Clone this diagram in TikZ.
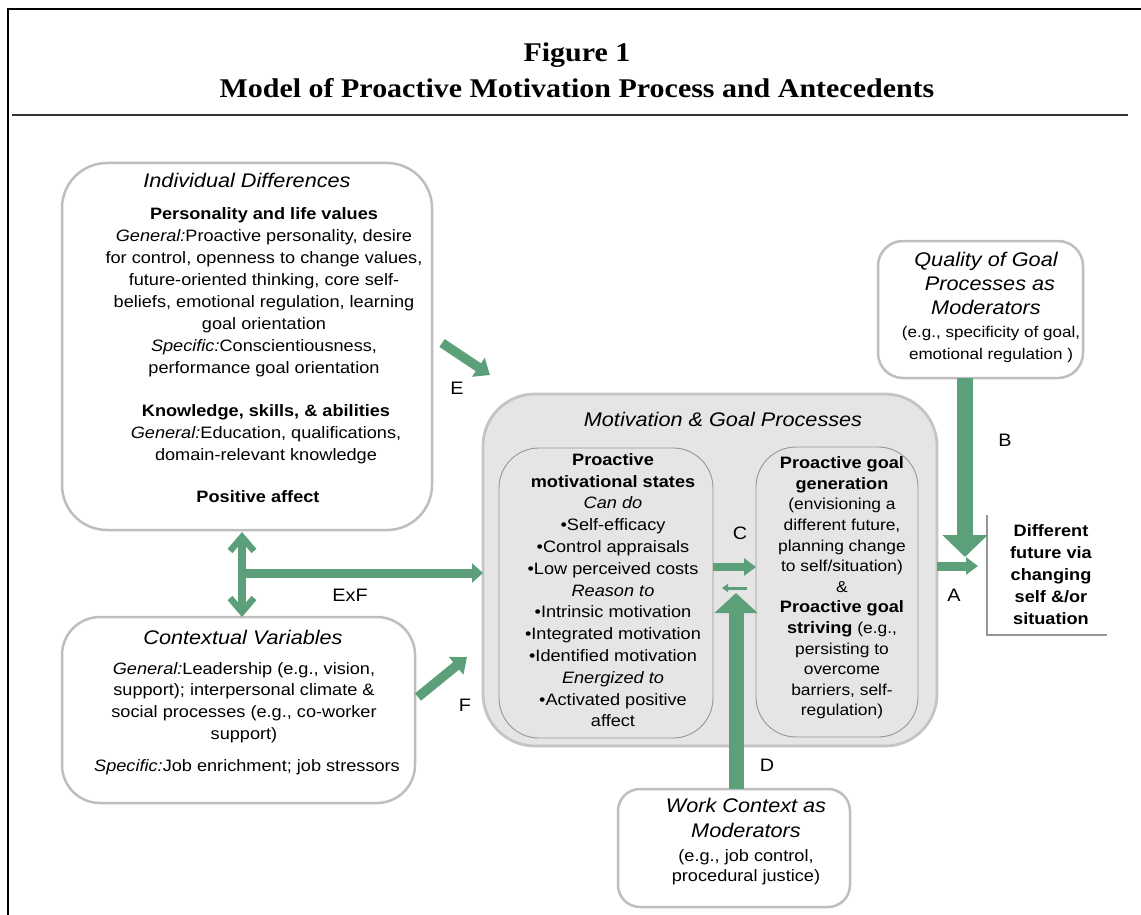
\documentclass[tikz,border=0pt]{standalone}
\usepackage{fontspec}
\setmainfont{Liberation Sans}[FakeStretch=1.1]
\newfontfamily\titlefont{Liberation Serif}[FakeStretch=1.11]
\usetikzlibrary{arrows.meta}
\definecolor{arrgreen}{RGB}{92,160,122}
\definecolor{boxline}{RGB}{190,190,190}
\definecolor{bigfill}{RGB}{229,229,229}
\definecolor{bigline}{RGB}{196,196,196}
\definecolor{innerline}{RGB}{150,150,150}
\newcommand\fz[2]{\fontsize{#1}{#2}\selectfont}
\newcommand\fl{\rule{0pt}{0.8em}}
\newcommand\RB[1]{{\fontsize{16.5}{20.6}\selectfont\bfseries #1}}
\tikzset{
  box/.style={draw=boxline, line width=2.5pt, fill=white, inner sep=0pt, outer sep=0pt},
  innerbox/.style={draw=innerline, line width=0.9pt, inner sep=0pt, outer sep=0pt, rounded corners=40pt},
  txt/.style={inner sep=0pt, outer sep=0pt, align=center, anchor=north},
  hd/.style={txt, font=\itshape\fz{19.7}{24}},
  bodytxt/.style={txt, font=\fz{16.5}{22}},
  lbl/.style={inner sep=0pt, font=\fz{18}{20}},
  arr/.style={draw=arrgreen, color=arrgreen},
  barb/.tip={Straight Barb[width=24pt,length=14pt,line width=6.5pt]},
}
\begin{document}
\begin{tikzpicture}[x=1pt,y=-1pt]
\useasboundingbox (0,0) rectangle (1141,915);
% frame and title
\coordinate (fa) at (8,915);
\coordinate (fb) at (8,9);
\coordinate (fc) at (1141,9);
\draw[line width=2.6pt] (fa) -- (fb) -- (fc);
\node[anchor=base, inner sep=0pt, font=\titlefont\bfseries\fz{27}{30}] (fig) at (577,62) {Figure 1};
\node[anchor=base, inner sep=0pt, font=\titlefont\bfseries\fz{27}{30}] (ttl) at (577,98) {Model of Proactive Motivation Process and Antecedents};
\coordinate (ra) at (12,115);
\coordinate (rb) at (1128,115);
\draw[line width=2pt, black!80] (ra) -- (rb);

% Individual differences
\node[box, rounded corners=45pt, minimum width=370pt, minimum height=367pt] (indiv) at (247,346.5) {};
\node[hd] (indivt) at (247,172) {\fl Individual Differences};
\node[bodytxt] (indiv1) at (264,206) {\fl\textbf{Personality and life values}\\
\textit{General:}Proactive personality, desire\\
for control, openness to change values,\\
future-oriented thinking, core self-\\
beliefs, emotional regulation, learning\\
goal orientation\\
\textit{Specific:}Conscientiousness,\\
performance goal orientation};
\node[bodytxt] (indiv2) at (266,403) {\fl\textbf{Knowledge, skills, \& abilities}\\
\textit{General:}Education, qualifications,\\
domain-relevant knowledge};
\node[bodytxt] (indiv3) at (258,489) {\fl\textbf{Positive affect}};

% Contextual variables
\node[box, rounded corners=38pt, minimum width=353pt, minimum height=186pt] (ctx) at (238.5,710) {};
\node[hd] (ctxt) at (243,629) {\fl Contextual Variables};
\node[txt, font=\fz{16.5}{21.7}] (ctx1) at (244,661) {\fl\textit{General:}Leadership (e.g., vision,\\
support); interpersonal climate \&\\
social processes (e.g., co-worker\\
support)};
\node[bodytxt] (ctx2) at (247,758) {\fl\textit{Specific:}Job enrichment; job stressors};

% Motivation & goal processes
\node[draw=bigline, fill=bigfill, line width=2.8pt, rounded corners=52pt, minimum width=454pt, minimum height=352pt, inner sep=0pt, outer sep=0pt] (big) at (710,570) {};
\node[hd] (bigt) at (723,411) {\fl Motivation \& Goal Processes};
\node[innerbox, minimum width=214pt, minimum height=290pt] (lin) at (606,593) {};
\node[innerbox, minimum width=162pt, minimum height=290pt] (rin) at (837,592) {};
\node[txt, font=\fz{16.5}{21.8}] (lint) at (613,452) {\fl\textbf{Proactive}\\
\textbf{motivational states}\\
\textit{Can do}\\
\textbullet Self-efficacy\\
\textbullet Control appraisals\\
\textbullet Low perceived costs\\
\textit{Reason to}\\
\textbullet Intrinsic motivation\\
\textbullet Integrated motivation\\
\textbullet Identified motivation\\
\textit{Energized to}\\
\textbullet Activated positive\\
affect};
\node[txt, font=\fz{15.8}{20.6}] (rint) at (842,456) {\fl\RB{Proactive goal}\\
\RB{generation}\\
(envisioning a\\
different future,\\
planning change\\
to self/situation)\\
\&\\
\RB{Proactive goal}\\
\RB{striving} (e.g.,\\
persisting to\\
overcome\\
barriers, self-\\
regulation)};

% Quality of goal processes
\node[box, rounded corners=25pt, minimum width=205pt, minimum height=137pt] (qual) at (980.5,309.5) {};
\node[hd] (qualt) at (986,251) {\fl Quality of Goal\\ \hspace*{8pt}Processes as\\ Moderators};
\node[txt, font=\fz{15.5}{22}] (quale) at (991,325.5) {\fl(e.g., specificity of goal,\\ emotional regulation )};

% Work context
\node[box, rounded corners=22pt, minimum width=232pt, minimum height=118pt] (work) at (734,848) {};
\node[hd, font=\itshape\fz{19.7}{25}] (workt) at (746,797) {\fl Work Context as\\ Moderators};
\node[txt, font=\fz{16.5}{20}] (worke) at (746,848) {\fl(e.g., job control,\\ procedural justice)};

% outcome
\node[txt, font=\bfseries\fz{16.5}{22}] (diff) at (1051,523) {\fl Different\\ future via\\ changing\\ self \&/or\\ situation};
\coordinate (bra) at (987,515);
\coordinate (brb) at (987,635);
\coordinate (brc) at (1107,635);
\draw[innerline, line width=1.2pt] (bra) -- (brb) -- (brc);

% arrows
\coordinate (e1) at (442,343);
\coordinate (e2) at (490,375);
\draw[arr, line width=9.5pt, -{Triangle[width=22pt,length=14pt]}] (e1) -- (e2);
\coordinate (f1) at (418,697);
\coordinate (f2) at (467,657);
\draw[arr, line width=9.5pt, -{Triangle[width=22pt,length=14pt]}] (f1) -- (f2);
\coordinate (exfa) at (242,532);
\coordinate (exfb) at (242,617);
\draw[arr, line width=8pt, barb-barb] (exfa) -- (exfb);
\coordinate (exf) at (242,573);
\draw[arr, line width=9pt, -{Triangle[width=19pt,length=11pt]}] (exf) -- (exf -| big.west);
\coordinate (cy) at (735,567);
\draw[arr, line width=8pt, -{Triangle[width=17pt,length=12pt]}] (cy -| lin.east) -- (cy -| rin.west);
\coordinate (fb1) at (747,588);
\coordinate (fb2) at (722,588);
\draw[arr, line width=3pt, -{Triangle[width=8pt,length=6pt]}] (fb1) -- (fb2);
\coordinate (dtip) at (736,593);
\draw[arr, line width=15pt, -{Triangle[width=42pt,length=20pt]}] (dtip |- work.north) -- (dtip);
\coordinate (btip) at (965,557);
\draw[arr, line width=16pt, -{Triangle[width=44pt,length=22pt]}] (btip |- qual.south) -- (btip);
\coordinate (atip) at (978,566);
\draw[arr, line width=9pt, -{Triangle[width=17pt,length=12pt]}] (atip -| big.east) -- (atip);

% labels
\node[lbl] (le) at (457,388) {E};
\node[lbl] (lf) at (465,705) {F};
\node[lbl] (lexf) at (350,595) {ExF};
\node[lbl] (lc) at (740,533) {C};
\node[lbl] (ld) at (767,765) {D};
\node[lbl] (lb) at (1005,440) {B};
\node[lbl] (la) at (954,595) {A};
\end{tikzpicture}
\end{document}
